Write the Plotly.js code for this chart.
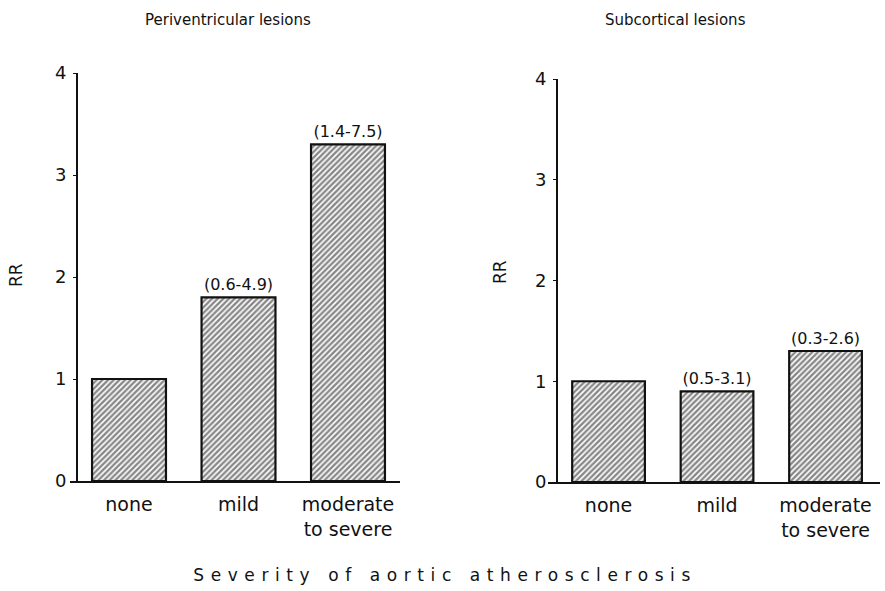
<!DOCTYPE html>
<html>
<head>
<meta charset="utf-8">
<script src="https://cdn.plot.ly/plotly-3.0.1.min.js"></script>
<style>
  html, body { margin: 0; padding: 0; background: #fff; }
  #chart { width: 885px; height: 591px; }
</style>
</head>
<body>
<div id="chart"></div>
<script>
// Relative risk of lesions by severity of aortic atherosclerosis
const categories = ["none", "mild", "moderate<br>to severe"];
const periventricularRR = [1.0, 1.8, 3.3];
const periventricularCI = ["", "(0.6-4.9)", "(1.4-7.5)"];
const subcorticalRR = [1.0, 0.9, 1.3];
const subcorticalCI = ["", "(0.5-3.1)", "(0.3-2.6)"];
const yTicks = [0, 1, 2, 3, 4];

const FONT = "'DejaVu Sans', sans-serif";
const W = 885, H = 591;

function hatchedBars(y, ci, xa, ya, width) {
  return {
    type: "bar",
    x: [0, 1, 2],
    y: y,
    text: ci,
    textposition: "outside",
    cliponaxis: false,
    textfont: { family: FONT, size: 16, color: "#111" },
    width: width,
    xaxis: xa,
    yaxis: ya,
    marker: {
      color: "#fff",
      line: { color: "#111", width: 2.2 },
      pattern: { shape: "/", size: 4, solidity: 0.6, fgcolor: "#111", bgcolor: "#fff", fillmode: "overlay" }
    },
    hoverinfo: "skip",
    showlegend: false
  };
}

const data = [
  hatchedBars(periventricularRR, periventricularCI, "x", "y", 0.675),
  hatchedBars(subcorticalRR, subcorticalCI, "x2", "y2", 0.67)
];

function xAxis(domain, range, anchor) {
  return {
    domain: domain,
    range: range,
    anchor: anchor,
    tickmode: "array",
    tickvals: [0, 1, 2],
    ticktext: categories,
    ticks: "",
    ticklabelstandoff: 6,
    showgrid: false,
    zeroline: false,
    showline: true,
    linecolor: "#111",
    linewidth: 1.5,
    tickfont: { family: FONT, size: 19, color: "#111" },
    fixedrange: true
  };
}

function yAxis(domain, pos) {
  return {
    domain: domain,
    range: [0, 4],
    anchor: "free",
    position: pos,
    tickmode: "array",
    tickvals: yTicks,
    ticks: "outside",
    ticklen: 3,
    tickcolor: "#111",
    ticklabelstandoff: 3,
    showgrid: false,
    zeroline: false,
    showline: true,
    linecolor: "#111",
    linewidth: 1.5,
    tickfont: { family: FONT, size: 18, color: "#111" },
    fixedrange: true
  };
}

const layout = {
  width: W,
  height: H,
  margin: { l: 0, r: 0, t: 0, b: 0 },
  paper_bgcolor: "#fff",
  plot_bgcolor: "rgba(0,0,0,0)",
  font: { family: FONT, color: "#111" },
  xaxis: xAxis([70 / W, 400 / W], [-0.539, 2.475], "y"),
  yaxis: yAxis([110 / H, 518 / H], 76 / W),
  xaxis2: xAxis([548 / W, 880 / W], [-0.558, 2.502], "y2"),
  yaxis2: yAxis([109 / H, 512 / H], 556 / W),
  annotations: [
    { text: "Periventricular lesions", xref: "paper", yref: "paper", x: 228 / W, y: 1 - 20 / H,
      xanchor: "center", yanchor: "middle", showarrow: false, font: { family: FONT, size: 15, color: "#111" } },
    { text: "Subcortical lesions", xref: "paper", yref: "paper", x: 675 / W, y: 1 - 20 / H,
      xanchor: "center", yanchor: "middle", showarrow: false, font: { family: FONT, size: 15, color: "#111" } },
    { text: "RR", xref: "paper", yref: "paper", x: 16 / W, y: 1 - 275 / H, textangle: -90,
      xanchor: "center", yanchor: "middle", showarrow: false, font: { family: FONT, size: 17, color: "#111" } },
    { text: "RR", xref: "paper", yref: "paper", x: 500 / W, y: 1 - 272 / H, textangle: -90,
      xanchor: "center", yanchor: "middle", showarrow: false, font: { family: FONT, size: 17, color: "#111" } },
    { text: "Severity of aortic atherosclerosis", xref: "paper", yref: "paper", x: 442 / W, y: 1 - 575 / H,
      xanchor: "center", yanchor: "middle", showarrow: false, font: { family: FONT, size: 17, color: "#111" } }
  ]
};

Plotly.newPlot("chart", data, layout, { displayModeBar: false, staticPlot: true }).then(function (gd) {
  // spread the shared axis caption letters across its full width
  const caption = gd.querySelector('g.annotation[data-index="4"] text');
  if (caption) {
    caption.setAttribute("textLength", "497");
    caption.setAttribute("lengthAdjust", "spacing");
  }
});
</script>
</body>
</html>
